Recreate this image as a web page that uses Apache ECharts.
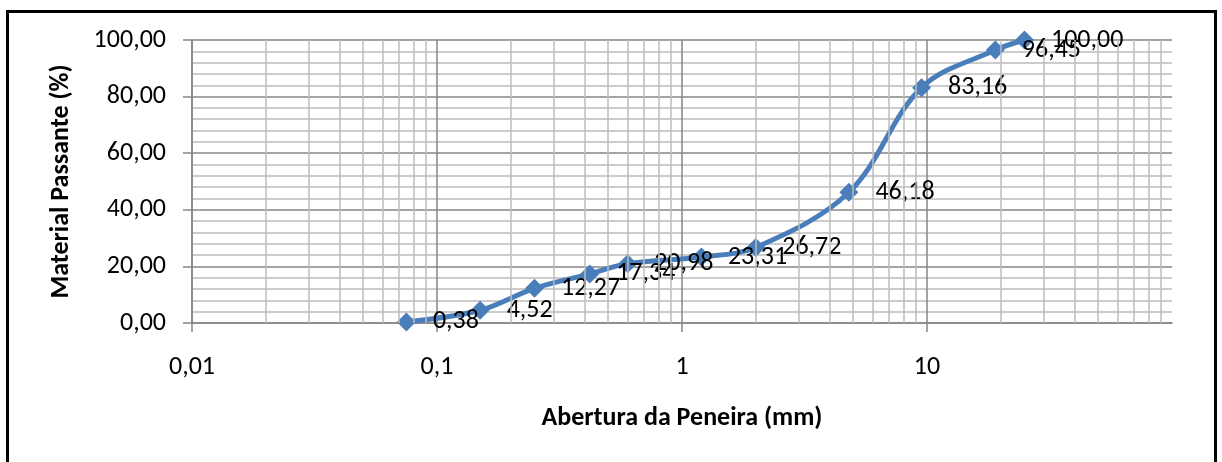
<!DOCTYPE html>
<html>
<head>
<meta charset="utf-8">
<title>Curva granulométrica</title>
<script src="https://cdn.jsdelivr.net/npm/echarts@6/dist/echarts.min.js"></script>
<style>
  html, body { margin: 0; padding: 0; background: #fff; }
  #chart { width: 1222px; height: 462px; }
  #frame {
    position: absolute; left: 6px; top: 10px; width: 1211px; height: 470px;
    border: 3px solid #000; pointer-events: none; box-sizing: border-box;
  }
</style>
</head>
<body>
<div id="chart"></div>
<div id="frame"></div>
<script>
// Sieve openings (mm) and cumulative percent passing
const aberturas = [0.075, 0.15, 0.25, 0.42, 0.6, 1.2, 2.0, 4.8, 9.5, 19, 25];
const passante  = [0.38, 4.52, 12.27, 17.34, 20.98, 23.31, 26.72, 46.18, 83.16, 96.45, 100.00];

// Decade labels on the logarithmic axis
const xTickLabels = ['0,01', '0,1', '1', '10', '100'];

// Intermediate values (2..9 of each decade) for the minor vertical grid
const minorX = [];
[0.01, 0.1, 1, 10].forEach(d => {
  for (let k = 2; k <= 9; k++) minorX.push(+(d * k).toPrecision(3));
});

const FONT = 'Carlito, Calibri, Lato, sans-serif';
const fmt = v => v.toFixed(2).replace('.', ',');

const chart = echarts.init(document.getElementById('chart'));
chart.setOption({
  animation: false,
  backgroundColor: '#fff',
  grid: { left: 192, right: 50, top: 40, bottom: 139, containLabel: false, outerBoundsMode: 'none' },
  xAxis: {
    type: 'log',
    logBase: 10,
    min: 0.01,
    max: 100,
    name: 'Abertura da Peneira (mm)',
    nameLocation: 'middle',
    nameGap: 82,
    nameTextStyle: { fontFamily: FONT, fontWeight: 'bold', fontSize: 26, color: '#000' },
    axisLine: { show: true, lineStyle: { color: '#868686', width: 1.5 } },
    axisTick: { show: true, length: 9, lineStyle: { color: '#868686', width: 1.5 } },
    axisLabel: {
      fontFamily: FONT, fontSize: 26, color: '#000', margin: 31,
      showMaxLabel: false,
      formatter: (v, i) => xTickLabels[i]
    },
    splitLine: { show: true, showMaxLine: false, lineStyle: { color: '#868686', width: 1.5 } }
  },
  yAxis: {
    type: 'value',
    min: 0,
    max: 100,
    interval: 20,
    name: 'Material Passante (%)',
    nameLocation: 'middle',
    nameGap: 118,
    nameRotate: 90,
    nameTextStyle: { fontFamily: FONT, fontWeight: 'bold', fontSize: 26, color: '#000' },
    axisLine: { show: true, lineStyle: { color: '#868686', width: 1.5 } },
    axisTick: { show: true, length: 9, lineStyle: { color: '#868686', width: 1.5 } },
    axisLabel: { fontFamily: FONT, fontSize: 26, color: '#000', margin: 26, formatter: v => fmt(v) },
    splitLine: { show: true, lineStyle: { color: '#868686', width: 1.5 } },
    minorTick: { show: false, splitNumber: 5 },
    minorSplitLine: { show: true, lineStyle: { color: '#bcbcbc', width: 1.5 } }
  },
  series: [
    {
      // minor vertical grid lines of the log axis
      type: 'line',
      data: [],
      z: 1,
      silent: true,
      markLine: {
        silent: true,
        symbol: ['none', 'none'],
        label: { show: false },
        lineStyle: { color: '#bcbcbc', width: 1.5, type: 'solid' },
        emphasis: { disabled: true },
        data: minorX.map(v => ({ xAxis: v }))
      }
    },
    {
      name: 'Material Passante',
      type: 'line',
      z: 3,
      smooth: 0.35,
      data: aberturas.map((a, i) => [a, passante[i]]),
      symbol: 'diamond',
      symbolSize: 19,
      lineStyle: { color: '#4a7ebb', width: 5 },
      itemStyle: { color: '#4a7ebb' },
      label: {
        show: true,
        position: 'right',
        distance: 17,
        offset: [0, 2],
        fontFamily: FONT,
        fontSize: 26,
        color: '#000',
        formatter: p => fmt(p.value[1])
      },
      labelLayout: { hideOverlap: false }
    }
  ]
});
</script>
</body>
</html>
